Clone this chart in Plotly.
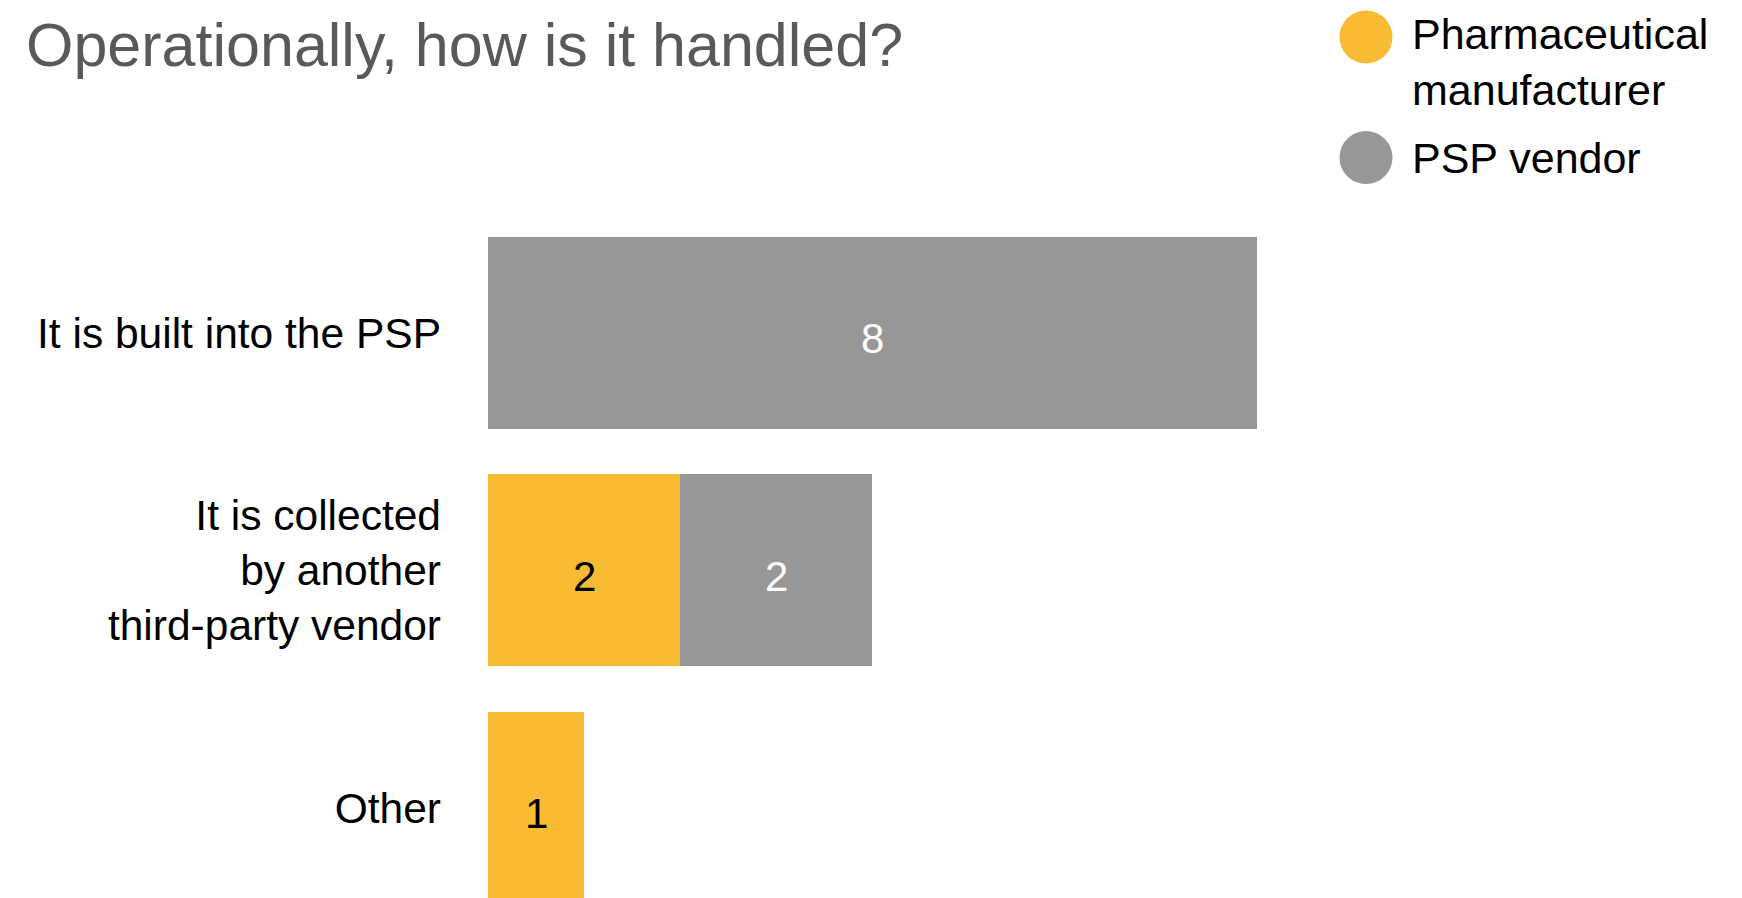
import plotly.graph_objects as go

# --- data -------------------------------------------------------------
categories = [
    "It is built into the PSP",
    "It is collected<br>by another<br>third-party vendor",
    "Other",
]
series_names = ["Pharmaceutical<br>manufacturer", "PSP vendor"]
pharma_values = [None, 2, 1]
psp_values = [8, 2, None]

series_values = [pharma_values, psp_values]
series_colors = ["#FABB34", "#979797"]
label_colors = ["#000000", "#FFFFFF"]

title_text = "Operationally, how is it handled?"

# --- geometry -----------------------------------------------------------
W, H = 1742, 898
L, T = 488, 214
PX_PER_UNIT = 96.1
plot_w = W - L
plot_h = H - T
x_max = plot_w / PX_PER_UNIT

FONT = "Helvetica Neue, Liberation Sans, Arial, sans-serif"


def px_x(px):
    return (px - L) / plot_w


def px_y(py):
    return 1 - (py - T) / plot_h


fig = go.Figure()
annotations = []
base = [0] * len(categories)
for name, vals, color, lc in zip(series_names, series_values, series_colors, label_colors):
    fig.add_trace(
        go.Bar(
            y=categories,
            x=vals,
            orientation="h",
            name=name,
            marker=dict(color=color, line=dict(width=0)),
            textposition="none",
            showlegend=False,
            hoverinfo="skip",
        )
    )
    # value labels centred on each segment
    for i, (cat, v) in enumerate(zip(categories, vals)):
        if v is None:
            continue
        annotations.append(
            dict(
                text=str(v),
                x=base[i] + v / 2, y=cat,
                xref="x", yref="y",
                xanchor="center", yanchor="middle",
                yshift=-6,
                showarrow=False,
                font=dict(size=42, color=lc, family=FONT),
            )
        )
        base[i] += v

# custom legend with large round swatches
legend_centers_y = [37, 157.5]
legend_text_y = [62, 157.5]
shapes = []
for name, color, cy, ty in zip(series_names, series_colors, legend_centers_y, legend_text_y):
    shapes.append(
        dict(
            type="circle",
            xref="paper", yref="paper",
            xsizemode="pixel", ysizemode="pixel",
            xanchor=px_x(1366), yanchor=px_y(cy),
            x0=-26.5, x1=26.5, y0=-26.5, y1=26.5,
            fillcolor=color,
            line=dict(width=0),
            layer="above",
        )
    )
    annotations.append(
        dict(
            text=name,
            xref="paper", yref="paper",
            x=px_x(1410), y=px_y(ty),
            xanchor="left", yanchor="middle",
            align="left",
            showarrow=False,
            font=dict(size=43, color="#000000", family=FONT),
        )
    )

fig.update_layout(
    width=W,
    height=H,
    margin=dict(l=L, r=0, t=T, b=0, autoexpand=False),
    barmode="stack",
    bargap=0.1916,
    plot_bgcolor="white",
    paper_bgcolor="white",
    showlegend=False,
    xaxis=dict(range=[0, x_max], visible=False, fixedrange=True),
    yaxis=dict(
        type="category",
        categoryorder="array",
        categoryarray=categories,
        range=[2.38, -0.5],
        showgrid=False,
        showline=False,
        zeroline=False,
        ticks="",
        ticklabelstandoff=46,
        tickfont=dict(size=42.5, color="#000000", family=FONT),
        fixedrange=True,
    ),
    title=dict(
        text=title_text,
        xref="container", yref="container",
        x=26 / W, y=1 - 45 / H,
        xanchor="left", yanchor="middle",
        font=dict(size=61, color="#595959", family=FONT),
    ),
    shapes=shapes,
    annotations=annotations,
)

fig.write_html("out.html", config={"displayModeBar": False})
